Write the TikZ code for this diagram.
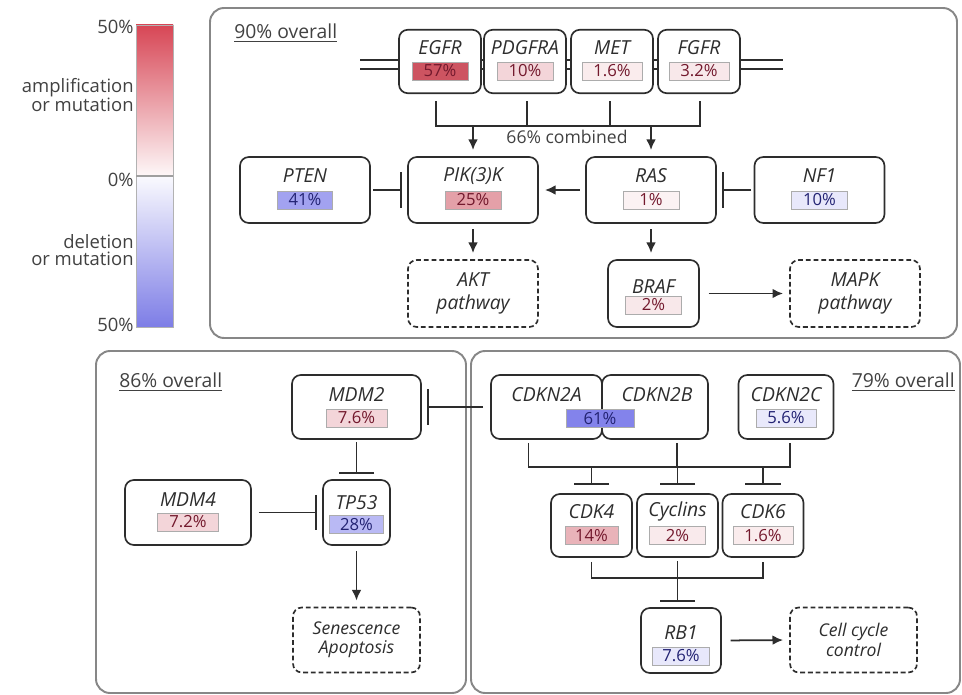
\documentclass[tikz,border=0pt]{standalone}
\usepackage{fontspec}
\setmainfont{Open Sans}
\usepackage{xcolor}
\usepackage{tikz}
\usetikzlibrary{
  arrows.meta,
  positioning,
  calc
}
\definecolor{ampcol}{RGB}{200,65,80}
\definecolor{delcol}{RGB}{100,100,230}
\definecolor{barhi}{RGB}{215,70,85}
\definecolor{barlo}{RGB}{125,125,230}
\definecolor{ampink}{RGB}{115,25,45}
\definecolor{delink}{RGB}{35,35,115}
\definecolor{panelgray}{RGB}{135,135,135}
\definecolor{edgegray}{RGB}{45,45,45}
\definecolor{labgray}{RGB}{65,65,65}

\begin{document}
\begin{tikzpicture}[
  x=0.02cm,y=-0.02cm,
  panel/.style={draw=panelgray,line width=1.1pt,rounded corners=8pt},
  gene/.style={draw=edgegray,line width=0.95pt,rounded corners=5pt,fill=white,minimum width=1.64cm,minimum height=1.27cm,inner sep=0pt},
  pway/.style={gene,dash pattern=on 2.8pt off 1.6pt,align=center,font=\fontsize{11}{13}\selectfont\itshape,text=edgegray},
  gname/.style={font=\fontsize{11}{12}\selectfont\itshape,text=edgegray,inner sep=0pt},
  val/.style={draw=gray!65,line width=0.5pt,minimum width=1.12cm,minimum height=0.36cm,inner sep=0pt,font=\fontsize{9.5}{10}\selectfont},
  amp/.style={val,fill=ampcol!#1!white,text=ampink},
  del/.style={val,fill=delcol!#1!white,text=delink},
  overall/.style={font=\fontsize{11}{12}\selectfont,text=labgray,inner sep=0pt},
  scalelab/.style={font=\fontsize{10.5}{9.5}\selectfont,text=labgray,align=right,anchor=east,inner sep=0pt},
  link/.style={draw=edgegray,line width=1pt},
  memb/.style={draw=edgegray,line width=0.9pt,double=white,double distance=3.9pt},
  act/.style={link,-{Latex[length=6pt,width=5.5pt]},shorten <=3pt,shorten >=3.5pt},
  inh/.style={link,-{Bar[width=20pt,line width'=1.1pt]},shorten <=1.5pt,shorten >=3.2pt}
]
\useasboundingbox (0,0) rectangle (962,695);

% colour scale
\shade[top color=barhi,bottom color=barhi!4!white] (136,25) rectangle (173,176);
\shade[top color=barlo!4!white,bottom color=barlo] (136,176) rectangle (173,327);
\draw[gray!60,line width=0.4pt] (136,25) rectangle (173,327);
\draw[gray!75,line width=0.6pt] (136,176) -- (173,176);
\node[scalelab] (hi50) at (134,27) {50\%};
\node[scalelab] (ampl) at (134,95) {amplification\\or mutation};
\node[scalelab] (zero) at (134,180) {0\%};
\node[scalelab] (dele) at (134,250) {deletion\\or mutation};
\node[scalelab] (lo50) at (134,325) {50\%};

% panels
\draw[panel] (210,8) rectangle (957,338);
\draw[panel] (96,351) rectangle (466,693);
\draw[panel] (471,351) rectangle (960,693);
\node[overall,anchor=west] (rtkall) at (234,33) {\underline{90\% overall}};
\node[overall,anchor=west] (p53all) at (119,382) {\underline{86\% overall}};
\node[overall,anchor=east] (rball) at (955,382) {\underline{79\% overall}};

% RTK / RAS / PI3K
\coordinate (memL) at (360,64.5);
\coordinate (memR) at (783,64.5);
\draw[memb] (memL) -- (memR);

\node[gene] (egfr) at (440,61.5) {};
\node[gname] (egfr-n) at ($(egfr)+(0,-14)$) {EGFR};
\node[amp=90] (egfr-v) at ($(egfr)+(0,9.5)$) {57\%};
\node[gene] (pdgfra) at (525,61.5) {};
\node[gname] (pdgfra-n) at ($(pdgfra)+(0,-14)$) {PDGFRA};
\node[amp=22] (pdgfra-v) at ($(pdgfra)+(0,9.5)$) {10\%};
\node[gene] (met) at (612,61.5) {};
\node[gname] (met-n) at ($(met)+(0,-14)$) {MET};
\node[amp=10,minimum width=1.2cm] (met-v) at ($(met)+(0,9.5)$) {1.6\%};
\node[gene] (fgfr) at (699,61.5) {};
\node[gname] (fgfr-n) at ($(fgfr)+(0,-14)$) {FGFR};
\node[amp=12,minimum width=1.2cm] (fgfr-v) at ($(fgfr)+(0,9.5)$) {3.2\%};

\node[gene,minimum width=2.6cm,minimum height=1.32cm] (pten) at (305,190) {};
\node[gname] (pten-n) at ($(pten)+(0,-14)$) {PTEN};
\node[del=60,minimum width=1.1cm] (pten-v) at ($(pten)+(0,10)$) {41\%};
\node[gene,minimum width=2.6cm,minimum height=1.32cm] (pik) at (473,190) {};
\node[gname] (pik-n) at ($(pik)+(0,-14)$) {PIK(3)K};
\node[amp=50] (pik-v) at ($(pik)+(0,10)$) {25\%};
\node[gene,minimum width=2.6cm,minimum height=1.32cm] (ras) at (651,190) {};
\node[gname] (ras-n) at ($(ras)+(0,-14)$) {RAS};
\node[amp=7] (ras-v) at ($(ras)+(0,10)$) {1\%};
\node[gene,minimum width=2.6cm,minimum height=1.32cm] (nf1) at (819.5,190) {};
\node[gname] (nf1-n) at ($(nf1)+(0,-14)$) {NF1};
\node[del=15] (nf1-v) at ($(nf1)+(0,10)$) {10\%};

\node[pway,minimum width=2.6cm,minimum height=1.34cm] (akt) at (473,293.5) {AKT\\pathway};
\node[gene,minimum width=1.82cm,minimum height=1.34cm] (braf) at (653.5,293.5) {};
\node[gname] (braf-n) at ($(braf)+(0,-6.5)$) {BRAF};
\node[amp=12] (braf-v) at ($(braf)+(0,11.5)$) {2\%};
\node[pway,minimum width=2.6cm,minimum height=1.34cm] (mapk) at (855,293.5) {MAPK\\pathway};

\coordinate (rbus) at (567,126);
\draw[link] ($(egfr.south)+(-4,7)$) |- (rbus) -| ($(fgfr.south)+(1,7)$);
\draw[link] ($(pdgfra.south)+(2,7)$) -- ++(0,26);
\draw[link] ($(met.south)+(-2,7)$) -- ++(0,26);
\node[font=\fontsize{10}{11}\selectfont,text=labgray,inner sep=0pt] (combo) at (567,137) {66\% combined};
\draw[act,shorten <=0pt] (pik.north |- rbus) -- (pik.north);
\draw[act,shorten <=0pt] (ras.north |- rbus) -- (ras.north);
\draw[inh] (pten.east) -- (pik.west);
\draw[act] (ras.west) -- (pik.east);
\draw[inh] (nf1.west) -- (ras.east);
\draw[act] (pik.south) -- (akt.north);
\draw[act] (ras.south) -- (ras.south |- braf.north);
\draw[act,shorten <=5pt] (braf.east) -- (mapk.west);

% p53 pathway
\node[gene,minimum width=2.58cm,minimum height=1.28cm] (mdm2) at (356.5,407) {};
\node[gname] (mdm2-n) at ($(mdm2)+(0,-12)$) {MDM2};
\node[amp=22,minimum width=1.22cm] (mdm2-v) at ($(mdm2)+(0,11)$) {7.6\%};
\node[gene,minimum width=1.34cm,minimum height=1.3cm] (tp53) at (356.5,512.5) {};
\node[gname] (tp53-n) at ($(tp53)+(0,-9.5)$) {TP53};
\node[del=45,minimum width=1.08cm] (tp53-v) at ($(tp53)+(0,12)$) {28\%};
\node[gene,minimum width=2.52cm,minimum height=1.3cm] (mdm4) at (188,512.5) {};
\node[gname] (mdm4-n) at ($(mdm4)+(0,-12.5)$) {MDM4};
\node[amp=22,minimum width=1.22cm] (mdm4-v) at ($(mdm4)+(0,9.5)$) {7.2\%};
\node[pway,minimum width=2.54cm,minimum height=1.3cm,font=\fontsize{10}{11}\selectfont\itshape] (senes) at (356.5,640) {Senescence\\Apoptosis};

\draw[inh] (mdm2.south) -- (tp53.north);
\draw[inh,shorten <=4pt] (mdm4.east) -- (tp53.west);
\draw[act] (tp53.south) -- (senes.north);

% RB pathway
\node[gene,minimum width=2.22cm,minimum height=1.28cm] (cdkn2a) at (546.5,407) {};
\node[gname] (cdkn2a-n) at ($(cdkn2a)+(0,-12)$) {CDKN2A};
\node[gene,minimum width=2.12cm,minimum height=1.28cm] (cdkn2b) at (655,407) {};
\node[gname] (cdkn2b-n) at ($(cdkn2b)+(2,-12)$) {CDKN2B};
\node[del=80,minimum width=1.36cm] (cdkn2ab-v) at (600,418.5) {61\%};
\node[gene,minimum width=1.9cm,minimum height=1.28cm] (cdkn2c) at (786,407) {};
\node[gname] (cdkn2c-n) at ($(cdkn2c)+(0,-12)$) {CDKN2C};
\node[del=14,minimum width=1.2cm] (cdkn2c-v) at ($(cdkn2c)+(0,11)$) {5.6\%};

\node[gene,minimum width=1.62cm,minimum height=1.26cm] (cdk4) at (591.5,525.5) {};
\node[gname] (cdk4-n) at ($(cdk4)+(0,-14)$) {CDK4};
\node[amp=40,minimum width=1.06cm] (cdk4-v) at ($(cdk4)+(0,10)$) {14\%};
\node[gene,minimum width=1.62cm,minimum height=1.26cm] (cyclins) at (677.5,525.5) {};
\node[gname] (cyclins-n) at ($(cyclins)+(0,-14)$) {Cyclins};
\node[amp=11] (cyclins-v) at ($(cyclins)+(0,10)$) {2\%};
\node[gene,minimum width=1.62cm,minimum height=1.26cm] (cdk6) at (763,525.5) {};
\node[gname] (cdk6-n) at ($(cdk6)+(0,-14)$) {CDK6};
\node[amp=10,minimum width=1.2cm] (cdk6-v) at ($(cdk6)+(0,10)$) {1.6\%};

\node[gene,minimum width=1.6cm,minimum height=1.3cm] (rb1) at (681,640.5) {};
\node[gname] (rb1-n) at ($(rb1)+(0,-7.5)$) {RB1};
\node[del=15,minimum width=1.14cm] (rb1-v) at ($(rb1)+(0,15.5)$) {7.6\%};
\node[pway,minimum width=2.54cm,minimum height=1.3cm,font=\fontsize{10}{11}\selectfont\itshape] (cellcyc) at (853.5,640) {Cell cycle\\control};

\draw[inh,shorten <=4pt] (cdkn2a.west) -- (mdm2.east);
\coordinate (cbus) at (677,467);
\draw[link] ($(cdkn2a.south)+(-18,3)$) |- (cbus) -| ($(cdkn2c.south)+(4,3)$);
\draw[link] ($(cdkn2b.south)+(22,3)$) -- (cbus);
\draw[inh,shorten <=0pt,shorten >=4.5pt] (cdk4.north |- cbus) -- (cdk4.north);
\draw[inh,shorten <=0pt,shorten >=4.5pt] (cyclins.north |- cbus) -- (cyclins.north);
\draw[inh,shorten <=0pt,shorten >=4.5pt] (cdk6.north |- cbus) -- (cdk6.north);
\coordinate (kbus) at (677.5,578);
\draw[link] ($(cdk4.south)+(0,4)$) |- (kbus) -| ($(cdk6.south)+(0,4)$);
\draw[inh,shorten <=2pt] (cyclins.south) -- (cyclins.south |- rb1.north);
\draw[act,shorten <=5pt] (rb1.east) -- (cellcyc.west);
\end{tikzpicture}
\end{document}
